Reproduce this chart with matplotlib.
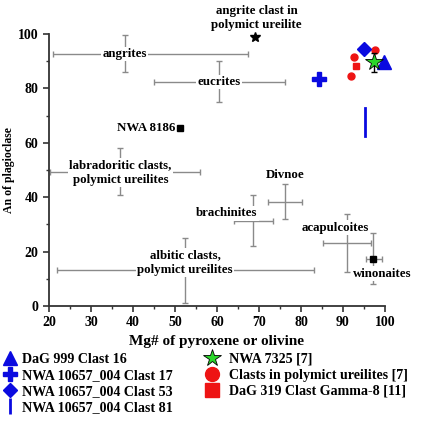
import matplotlib.pyplot as plt
from matplotlib.lines import Line2D
from matplotlib.ticker import MultipleLocator

plt.rcParams["font.family"] = ["Liberation Serif", "DejaVu Serif"]
plt.rcParams["font.weight"] = "bold"

# meteorite group ranges: cross point and extent of the bars
group_names = ["angrites", "eucrites", "labradoritic clasts,\npolymict ureilites",
               "albitic clasts,\npolymict ureilites", "brachinites", "Divnoe",
               "acapulcoites", "winonaites"]
group_x = [38, 60.5, 37, 52.5, 68.6, 76.2, 91, 97.2]
group_y = [92.7, 82.4, 49.1, 13.1, 31.3, 38.4, 23.3, 17.3]
group_x_lo = [21, 45, 20.2, 22, 64.1, 72.2, 85.3, 95.4]
group_x_hi = [67.3, 76.2, 56, 83.1, 73.3, 80.2, 96.7, 99.4]
group_y_lo = [86.2, 75.2, 40.9, 1, 22.1, 32, 12.6, 8]
group_y_hi = [99.5, 90, 58, 25.1, 40.9, 44.9, 34, 27]

# single points
nwa8186 = (51.2, 65.4)
winonaites_pt = (97.2, 17.3)
angrite_clast = (69, 98.8)

dag999_c16 = (99.8, 89.7)
nwa10657_c17 = (84.3, 83.5)
nwa10657_c53 = (95.1, 94.6)
nwa10657_c81_x = 95.2
nwa10657_c81_y = (62.4, 72.8)
nwa7325 = (97.5, 89.7)
nwa7325_err = 3.5
poly_clasts_x = [97.6, 92.7, 91.9]
poly_clasts_y = [94.0, 91.4, 84.7]
dag319 = (93.0, 88.4)

BLUE = "#0a0ae0"
RED = "#ee1414"
GREEN = "#2ad62a"
GREY = "#8a8a8a"

fig = plt.figure(figsize=(4.23, 4.21), dpi=100)
ax = fig.add_axes([0.1158, 0.2732, 0.7943, 0.6458])

for i in range(len(group_names)):
    ax.errorbar(group_x[i], group_y[i],
                xerr=[[group_x[i] - group_x_lo[i]], [group_x_hi[i] - group_x[i]]],
                yerr=[[group_y[i] - group_y_lo[i]], [group_y_hi[i] - group_y[i]]],
                fmt="none", ecolor=GREY, elinewidth=1.0, capsize=2.5, capthick=1.0,
                zorder=1)

label_pos = {
    "angrites": (38, 92.7),
    "eucrites": (60.5, 82.4),
    "labradoritic clasts,\npolymict ureilites": (37, 49.1),
    "albitic clasts,\npolymict ureilites": (52.4, 16.0),
    "brachinites": (62.3, 34.1),
    "Divnoe": (76.3, 48.2),
    "acapulcoites": (88.1, 28.8),
    "winonaites": (99.3, 11.8),
}
for name in group_names:
    lx, ly = label_pos[name]
    box = None if name == "Divnoe" else dict(facecolor="white", edgecolor="none", pad=1)
    ax.text(lx, ly, name, ha="center", va="center", fontsize=9.3, fontweight="bold",
            linespacing=1.3, bbox=box, zorder=3)

ax.plot(*nwa8186, "s", color="black", markersize=4.5, zorder=4)
ax.text(nwa8186[0] - 1.2, nwa8186[1], "NWA 8186", ha="right", va="center",
        fontsize=9.3, fontweight="bold")
ax.plot(*winonaites_pt, "s", color="black", markersize=5, zorder=4)
ax.plot(*angrite_clast, "*", color="black", markersize=7, zorder=4, clip_on=False)
ax.text(angrite_clast[0] + 0.4, 101.0, "angrite clast in\npolymict ureilite", ha="center",
        va="bottom", fontsize=9.3, fontweight="bold", linespacing=1.3)

ax.plot([nwa10657_c81_x, nwa10657_c81_x], nwa10657_c81_y, color=BLUE, lw=2, zorder=4)
ax.plot(poly_clasts_x, poly_clasts_y, "o", color=RED, markersize=5, zorder=4)
ax.plot(*dag319, "s", color=RED, markersize=5, zorder=4)
ax.plot(*nwa10657_c53, "D", color=BLUE, markersize=7, zorder=5)
ax.plot(*nwa10657_c17, "P", color=BLUE, markersize=10, zorder=5)
ax.plot(*dag999_c16, "^", color=BLUE, markersize=10, zorder=5, clip_on=False)
ax.errorbar(nwa7325[0], nwa7325[1], yerr=nwa7325_err, fmt="none", ecolor="black",
            elinewidth=1, capsize=2.5, zorder=5)
ax.plot(*nwa7325, "*", color=GREEN, markeredgecolor="black", markeredgewidth=0.6,
        markersize=13, zorder=6)

ax.set_xlim(20, 100)
ax.set_ylim(0, 100)
ax.xaxis.set_major_locator(MultipleLocator(10))
ax.xaxis.set_minor_locator(MultipleLocator(5))
ax.yaxis.set_major_locator(MultipleLocator(20))
ax.yaxis.set_minor_locator(MultipleLocator(10))
for side in ["top", "right"]:
    ax.spines[side].set_visible(False)
for side in ["left", "bottom"]:
    ax.spines[side].set_linewidth(1.3)
    ax.spines[side].set_color("#333333")
ax.tick_params(which="major", length=4, width=1.2, colors="#333333", labelsize=10,
               labelcolor="black")
ax.tick_params(which="minor", length=2.5, width=1.0, colors="#333333")
for lbl in ax.get_xticklabels() + ax.get_yticklabels():
    lbl.set_fontweight("bold")
ax.set_xlabel("Mg# of pyroxene or olivine", fontsize=11, fontweight="bold", labelpad=4)
ax.set_ylabel("An of plagioclase", fontsize=8.5, fontweight="bold")
ax.yaxis.set_label_coords(15 / 423, 0.5 * (0.2732 + 0.9190), transform=fig.transFigure)

left_handles = [
    Line2D([], [], marker="^", color=BLUE, linestyle="none", markersize=10),
    Line2D([], [], marker="P", color=BLUE, linestyle="none", markersize=10),
    Line2D([], [], marker="D", color=BLUE, linestyle="none", markersize=7),
    Line2D([], [], marker="|", color=BLUE, linestyle="none", markersize=11, markeredgewidth=2),
]
left_labels = ["DaG 999 Clast 16", "NWA 10657_004 Clast 17", "NWA 10657_004 Clast 53",
               "NWA 10657_004 Clast 81"]
right_handles = [
    Line2D([], [], marker="*", color=GREEN, markeredgecolor="black", markeredgewidth=0.6,
           linestyle="none", markersize=13),
    Line2D([], [], marker="o", color=RED, linestyle="none", markersize=10),
    Line2D([], [], marker="s", color=RED, linestyle="none", markersize=10),
]
right_labels = ["NWA 7325 [7]", "Clasts in polymict ureilites [7]",
                "DaG 319 Clast Gamma-8 [11]"]

leg_kw = dict(loc="upper left", frameon=False, prop={"weight": "bold", "size": 10.1},
              handlelength=1.0, labelspacing=0.22, borderaxespad=0.0, borderpad=0.0)
leg1 = fig.legend(left_handles, left_labels, bbox_to_anchor=(0.008, 0.162),
                  handletextpad=0.35, **leg_kw)
leg2 = fig.legend(right_handles, right_labels, bbox_to_anchor=(0.485, 0.162),
                  handletextpad=0.7, **leg_kw)

fig.savefig("out.png", dpi=100)
